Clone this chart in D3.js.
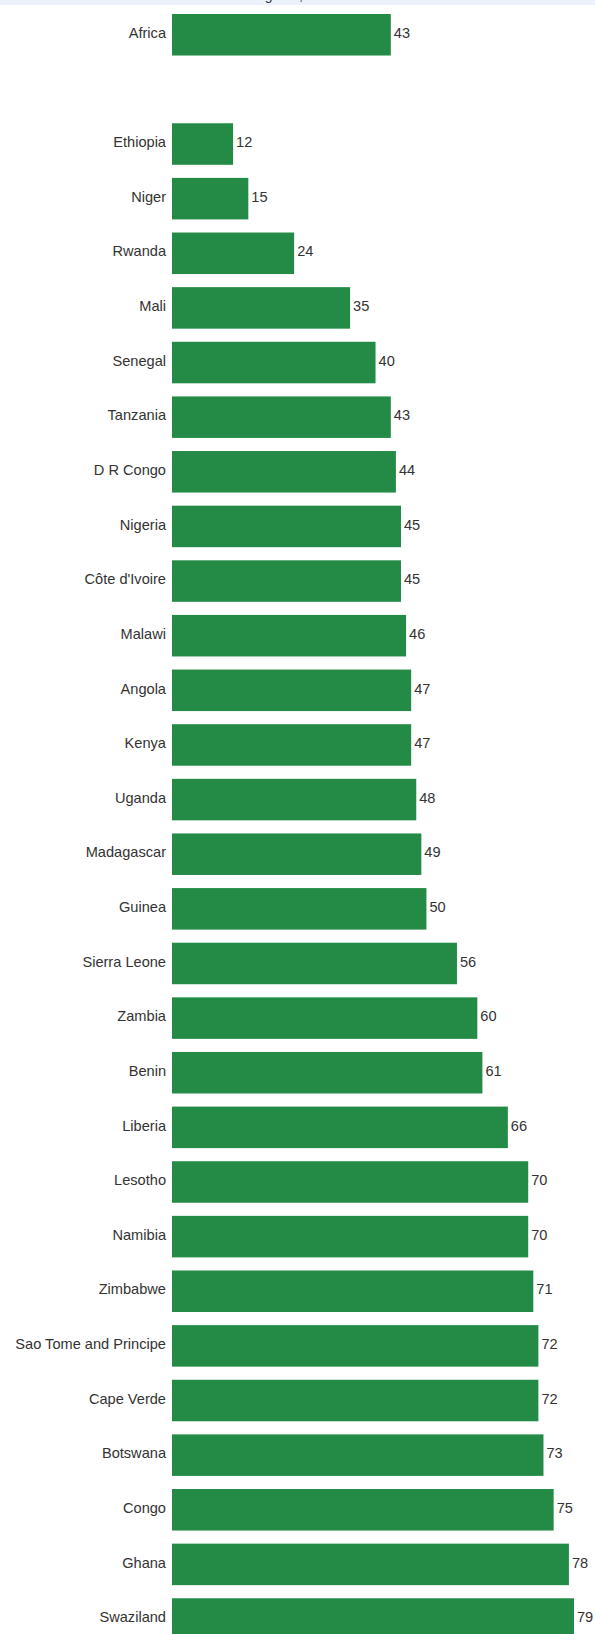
<!DOCTYPE html>
<html>
<head>
<meta charset="utf-8">
<script src="https://cdn.jsdelivr.net/npm/d3@7"></script>
<style>
  html, body { margin: 0; padding: 0; background: #ffffff; }
  svg { display: block; }
  text { font-family: "Liberation Sans", Arial, sans-serif; }
</style>
</head>
<body>
<script>
const categories = ["Africa", "", "Ethiopia", "Niger", "Rwanda", "Mali", "Senegal", "Tanzania",
  "D R Congo", "Nigeria", "Côte d'Ivoire", "Malawi", "Angola", "Kenya", "Uganda", "Madagascar",
  "Guinea", "Sierra Leone", "Zambia", "Benin", "Liberia", "Lesotho", "Namibia", "Zimbabwe",
  "Sao Tome and Principe", "Cape Verde", "Botswana", "Congo", "Ghana", "Swaziland"];
const values = [43, null, 12, 15, 24, 35, 40, 43, 44, 45, 45, 46, 47, 47, 48, 49, 50, 56, 60, 61,
  66, 70, 70, 71, 72, 72, 73, 75, 78, 79];
const titleText = "Progress, 2015";

const W = 595, H = 1660;
const svg = d3.select("body").append("svg").attr("width", W).attr("height", H);

// top header band (title area, mostly scrolled off)
svg.append("rect").attr("x", 0).attr("y", 0).attr("width", W).attr("height", 5).attr("fill", "#ebf2fb");
svg.append("text").attr("x", 243).attr("y", 0).attr("font-size", 14).attr("fill", "#333")
  .text(titleText);

const data = categories.map((c, i) => ({ c, v: values[i] }));

const step = 54.63, pad = 0.24, top0 = 14;
const y = d3.scaleBand().domain(categories)
  .range([top0, top0 + step * (categories.length - pad)])
  .paddingInner(pad).paddingOuter(0);
const x = d3.scaleLinear().domain([0, 79]).range([172, 574]);

const rows = svg.append("g").selectAll("g").data(data.filter(d => d.v !== null)).join("g");

rows.append("rect")
  .attr("x", x(0))
  .attr("y", d => y(d.c))
  .attr("width", d => x(d.v) - x(0))
  .attr("height", y.bandwidth())
  .attr("fill", "#238b45");

rows.append("text")
  .attr("x", x(0) - 6)
  .attr("y", d => y(d.c) + y.bandwidth() / 2)
  .attr("dy", "0.22em")
  .attr("text-anchor", "end")
  .attr("font-size", 14.6)
  .attr("fill", "#333")
  .text(d => d.c);

rows.append("text")
  .attr("x", d => x(d.v) + 3)
  .attr("y", d => y(d.c) + y.bandwidth() / 2)
  .attr("dy", "0.22em")
  .attr("font-size", 14.6)
  .attr("fill", "#333")
  .text(d => d.v);
</script>
</body>
</html>
